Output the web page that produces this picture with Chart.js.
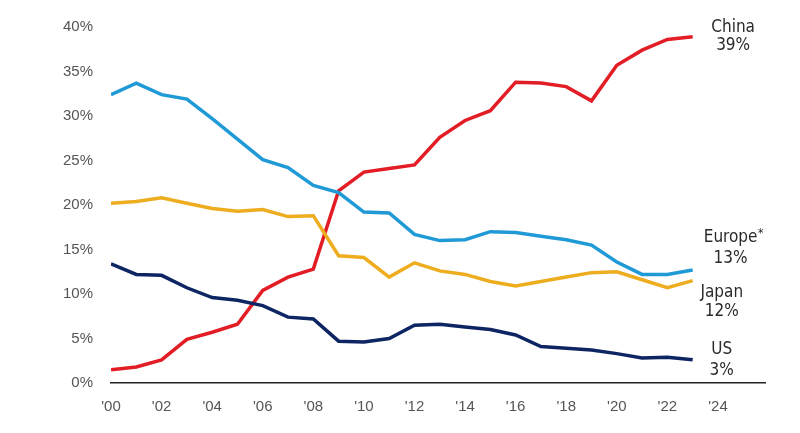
<!DOCTYPE html>
<html>
<head>
<meta charset="utf-8">
<script src="https://cdn.jsdelivr.net/npm/chart.js@4.4.1/dist/chart.umd.min.js"></script>
<style>
  html, body { margin: 0; padding: 0; background: #fff; }
  #wrap { width: 800px; height: 433px; position: relative; }
</style>
</head>
<body>
<div id="wrap"><canvas id="chart"></canvas></div>
<script>
// share by region, %
const years = [2000, 2001, 2002, 2003, 2004, 2005, 2006, 2007, 2008, 2009, 2010, 2011,
               2012, 2013, 2014, 2015, 2016, 2017, 2018, 2019, 2020, 2021, 2022, 2023];
const china  = [1.5, 1.8, 2.6, 4.9, 5.7, 6.6, 10.4, 11.9, 12.8, 21.6, 23.7, 24.1,
                24.5, 27.6, 29.5, 30.6, 33.8, 33.7, 33.3, 31.7, 35.7, 37.4, 38.6, 38.9];
const europe = [32.4, 33.7, 32.4, 31.9, 29.7, 27.4, 25.1, 24.2, 22.2, 21.4, 19.2, 19.1,
                16.7, 16.0, 16.1, 17.0, 16.9, 16.5, 16.1, 15.5, 13.6, 12.2, 12.2, 12.7];
const japan  = [20.2, 20.4, 20.8, 20.2, 19.6, 19.3, 19.5, 18.7, 18.8, 14.3, 14.1, 11.9,
                13.5, 12.6, 12.2, 11.4, 10.9, 11.4, 11.9, 12.4, 12.5, 11.6, 10.7, 11.5];
const us     = [13.4, 12.2, 12.1, 10.7, 9.6, 9.3, 8.7, 7.4, 7.2, 4.7, 4.6, 5.0,
                6.5, 6.6, 6.3, 6.0, 5.4, 4.1, 3.9, 3.7, 3.3, 2.8, 2.9, 2.6];

const seriesNames = ['China', 'Europe', 'Japan', 'US'];
const nameMarks = ['', '*', '', ''];
const endLabels = ['39%', '13%', '12%', '3%'];
const yTicks = [0, 5, 10, 15, 20, 25, 30, 35, 40];
const xTicks = [2000, 2002, 2004, 2006, 2008, 2010, 2012, 2014, 2016, 2018, 2020, 2022, 2024];

const colors = ['#e21d25', '#1f9ad6', '#eeac1f', '#0d2562'];
const TICK_FONT = { family: "'Liberation Sans', Arial, sans-serif", size: 15 };
const LABEL_FAMILY = "'Liberation Sans Narrow', 'DejaVu Sans Condensed', 'Liberation Sans', sans-serif";

// where the end labels sit, in data units (x = year, y = % for each line of text)
const labelAnchors = [
    { x: 2024.6, y1: 39.9, y2: 37.9 },
    { x: 2024.5, y1: 16.3, y2: 14.0 },
    { x: 2024.15, y1: 10.2, y2: 8.0 },
    { x: 2024.15, y1: 3.8, y2: 1.35 }
];

const toPoints = (vals) => vals.map((v, i) => ({ x: years[i], y: v }));

const endLabelPlugin = {
    id: 'endLabels',
    afterDatasetsDraw(chart) {
        const ctx = chart.ctx;
        const xs = chart.scales.x;
        const ys = chart.scales.y;
        ctx.save();
        ctx.fillStyle = '#2b2b2b';
        ctx.textBaseline = 'middle';
        seriesNames.forEach((name, i) => {
            const a = labelAnchors[i];
            const x = xs.getPixelForValue(a.x);
            const y1 = ys.getPixelForValue(a.y1);
            ctx.font = '17px ' + LABEL_FAMILY;
            ctx.textAlign = 'center';
            ctx.fillText(name, x, y1);
            ctx.fillText(endLabels[i], x, ys.getPixelForValue(a.y2));
            if (nameMarks[i]) {
                // small raised asterisk after the name
                const w = ctx.measureText(name).width;
                ctx.font = '12px ' + LABEL_FAMILY;
                ctx.textAlign = 'left';
                ctx.fillText(nameMarks[i], x + w / 2 + 0.5, y1 - 4);
            }
        });
        ctx.restore();
    }
};

const datasets = [china, europe, japan, us].map((vals, i) => ({
    label: seriesNames[i],
    data: toPoints(vals),
    borderColor: colors[i],
    backgroundColor: colors[i],
    borderWidth: 3.5,
    pointRadius: 0,
    tension: 0,
    fill: false
}));
// draw order: US at the back, China on top
datasets.reverse();

new Chart(document.getElementById('chart'), {
    type: 'line',
    data: { datasets: datasets },
    options: {
        responsive: true,
        maintainAspectRatio: false,
        animation: false,
        layout: { padding: { top: 24, right: 35, bottom: 0, left: 0 } },
        plugins: {
            legend: { display: false },
            tooltip: { enabled: false }
        },
        scales: {
            x: {
                type: 'linear',
                min: 2000,
                max: 2025.86,
                afterFit: (scale) => { scale.height = 50; },
                afterBuildTicks: (scale) => { scale.ticks = xTicks.map(v => ({ value: v })); },
                grid: { display: false, drawTicks: false },
                border: { display: true, color: '#222', width: 1.5 },
                ticks: {
                    color: '#555',
                    font: TICK_FONT,
                    padding: 15,
                    maxRotation: 0,
                    autoSkip: false,
                    callback: (v) => "'" + String(v % 100).padStart(2, '0')
                }
            },
            y: {
                min: 0,
                max: 40,
                afterFit: (scale) => { scale.width = 111; },
                afterBuildTicks: (scale) => { scale.ticks = yTicks.map(v => ({ value: v })); },
                grid: { display: false, drawTicks: false },
                border: { display: false },
                ticks: {
                    color: '#555',
                    font: TICK_FONT,
                    padding: 18,
                    callback: (v) => v + '%'
                }
            }
        }
    },
    plugins: [endLabelPlugin]
});
</script>
</body>
</html>
